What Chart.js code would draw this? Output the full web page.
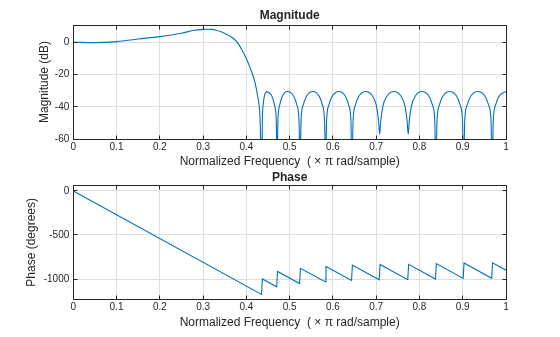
<!DOCTYPE html>
<html>
<head>
<meta charset="utf-8">
<script src="https://cdn.jsdelivr.net/npm/chart.js@4"></script>
<style>
  html, body { margin: 0; padding: 0; background: #fff; }
  #wrap { position: relative; width: 560px; height: 337px; }
  .panel { position: absolute; left: 0; width: 560px; }
  #magPanel { top: 0; height: 170px; }
  #phasePanel { top: 170px; height: 167px; }
</style>
</head>
<body>
<div id="wrap">
  <div class="panel" id="magPanel"><canvas id="magChart" width="560" height="170"></canvas></div>
  <div class="panel" id="phasePanel"><canvas id="phaseChart" width="560" height="167"></canvas></div>
</div>
<script>
// Filter response: magnitude (dB) and phase (degrees)
(function () {
  'use strict';

  // --- Data ---
  const freqTicks = [0, 0.1, 0.2, 0.3, 0.4, 0.5, 0.6, 0.7, 0.8, 0.9, 1];
  const magTicks = [-60, -40, -20, 0];
  const phaseTicks = [-1000, -500, 0];

  const magFreq = [
    0, 0.05, 0.1, 0.15, 0.2, 0.25, 0.28, 0.3, 0.31, 0.32, 0.33, 0.34, 0.35, 0.36, 0.37, 0.38, 0.389, 0.4, 0.41, 0.42, 0.426, 0.431,
    0.436, 0.4369, 0.4386, 0.4415, 0.447, 0.459, 0.4652, 0.4691,
    0.471, 0.4729, 0.4768, 0.483, 0.495, 0.5095, 0.517, 0.5217,
    0.524, 0.5264, 0.5311, 0.5388, 0.5535, 0.5683, 0.5759, 0.5806,
    0.583, 0.5854, 0.5903, 0.5983, 0.6135, 0.6288, 0.6367, 0.6416,
    0.644, 0.6466, 0.6517, 0.66, 0.676, 0.692, 0.7003, 0.7054,
    0.708, 0.7106, 0.7159, 0.7245, 0.741, 0.7575, 0.7661, 0.7714,
    0.774, 0.7766, 0.7817, 0.79, 0.806, 0.822, 0.8303, 0.8354,
    0.838, 0.8406, 0.8457, 0.854, 0.87, 0.886, 0.8943, 0.8994,
    0.902, 0.9046, 0.9099, 0.9185, 0.935, 0.9515, 0.9601, 0.9654,
    0.968, 0.9706, 0.9757, 0.984, 1,
  ];
  const magDb = [
    0, -0.2, 0.4, 2.0, 3.5, 5.6, 7.4, 8.0, 8.1, 8.0, 7.5, 6.7, 5.5, 4.1, 2.3, -0.4, -4.4, -10.2, -16.8, -25, -33.5, -44,
    -80, -48.5, -39.2, -33.5, -30.8, -33.5, -39.2, -48.5,
    -80, -48.5, -39.2, -33.5, -30.5, -33.5, -39.2, -48.5,
    -80, -48.5, -39.2, -33.5, -30.5, -33.5, -39.2, -48.5,
    -80, -48.5, -39.2, -33.5, -30.5, -33.5, -39.2, -48.5,
    -80, -48.5, -39.2, -33.5, -30.5, -33.5, -39.2, -48.5,
    -57, -48.5, -39.2, -33.5, -30.5, -33.5, -39.2, -48.5,
    -57, -48.5, -39.2, -33.5, -30.5, -33.5, -39.2, -48.5,
    -80, -48.5, -39.2, -33.5, -30.5, -33.5, -39.2, -48.5,
    -80, -48.5, -39.2, -33.5, -30.5, -33.5, -39.2, -48.5,
    -80, -48.5, -39.2, -33.5, -30.5,
  ];

  const phaseFreq = [
    0, 0.435, 0.437, 0.470, 0.472, 0.523, 0.525, 0.582, 0.584, 0.643, 0.645,
    0.707, 0.709, 0.773, 0.775, 0.837, 0.839, 0.901, 0.903, 0.967, 0.969, 1,
  ];
  const phaseDeg = [
    0, -1175, -1000, -1089, -914, -1052, -878, -1031, -857, -1016, -842,
    -1009, -834, -1007, -833, -1000, -825, -993, -818, -991, -816, -900,
  ];

  // --- Style ---
  const FONT = "'Liberation Sans', Arial, Helvetica, sans-serif";
  const TEXT = '#262626';
  const GRID = '#dedede';
  const LINE = '#0072bd';
  const TICK_LEN = 4;
  const X_TITLE = 'Normalized Frequency  ( \u00d7 \u03c0 rad/sample)';

  Chart.defaults.font.family = FONT;
  Chart.defaults.color = TEXT;
  Chart.defaults.animation = false;

  // MATLAB-style box with inward tick marks on all four sides
  const boxPlugin = {
    id: 'matlabBox',
    afterDraw(chart) {
      const { ctx, chartArea: a, scales } = chart;
      const al = (p) => Math.round(p - 0.5) + 0.5;
      const l = al(a.left), r = al(a.right), t = al(a.top), b = al(a.bottom);
      ctx.save();
      ctx.strokeStyle = TEXT;
      ctx.lineWidth = 1;
      ctx.beginPath();
      scales.x.ticks.forEach((tk) => {
        const x = al(scales.x.getPixelForValue(tk.value));
        ctx.moveTo(x, b); ctx.lineTo(x, b - TICK_LEN);
        ctx.moveTo(x, t); ctx.lineTo(x, t + TICK_LEN);
      });
      scales.y.ticks.forEach((tk) => {
        const y = al(scales.y.getPixelForValue(tk.value));
        ctx.moveTo(l, y); ctx.lineTo(l + TICK_LEN, y);
        ctx.moveTo(r, y); ctx.lineTo(r - TICK_LEN, y);
      });
      ctx.rect(l, t, r - l, b - t);
      ctx.stroke();
      ctx.restore();
    },
  };

  function makeChart(id, cfg) {
    const points = cfg.xs.map((x, i) => ({ x, y: cfg.ys[i] }));
    return new Chart(document.getElementById(id), {
      type: 'line',
      data: {
        datasets: [{
          data: points,
          borderColor: LINE,
          borderWidth: 1.1,
          pointRadius: 0,
          fill: false,
          tension: 0,
          cubicInterpolationMode: cfg.smooth ? 'monotone' : 'default',
        }],
      },
      options: {
        responsive: false,
        animation: false,
        layout: { padding: { left: 0, right: 54, top: 0, bottom: 0 } },
        plugins: {
          legend: { display: false },
          tooltip: { enabled: false },
          title: {
            display: true,
            text: cfg.title,
            fullSize: false,
            font: { size: 12, weight: 'bold', lineHeight: 1.2 },
            padding: cfg.titlePad,
          },
        },
        scales: {
          x: {
            type: 'linear',
            min: 0,
            max: 1,
            afterBuildTicks: (s) => { s.ticks = freqTicks.map((v) => ({ value: v })); },
            afterFit: (s) => { s.height = cfg.xHeight; },
            grid: { color: GRID, drawTicks: false },
            border: { display: false },
            ticks: {
              padding: cfg.xTickPad,
              font: { size: 10 },
              maxRotation: 0,
              autoSkip: false,
              callback: (v) => String(v),
            },
            title: {
              display: true,
              text: X_TITLE,
              font: { size: 12, lineHeight: 1.2 },
              padding: { top: 0, bottom: cfg.xTitlePad },
            },
          },
          y: {
            type: 'linear',
            min: cfg.yMin,
            max: cfg.yMax,
            afterBuildTicks: (s) => { s.ticks = cfg.yTicks.map((v) => ({ value: v })); },
            afterFit: (s) => { s.width = 73.3; },
            grid: { color: GRID, drawTicks: false },
            border: { display: false },
            ticks: { padding: 4, font: { size: 10 }, callback: (v) => String(v) },
            title: {
              display: true,
              text: cfg.yTitle,
              font: { size: 12, lineHeight: 1.2 },
              padding: { top: cfg.yTitlePad, bottom: 0 },
            },
          },
        },
      },
      plugins: [boxPlugin],
    });
  }

  // --- Charts ---
  makeChart('magChart', {
    xs: magFreq,
    ys: magDb,
    smooth: true,
    title: 'Magnitude',
    titlePad: { top: 8.5, bottom: 2.1 },
    xHeight: 31,
    xTickPad: 2.5,
    xTitlePad: 0.8,
    yMin: -60,
    yMax: 10.7,
    yTicks: magTicks,
    yTitle: 'Magnitude (dB)',
    yTitlePad: 37.8,
  });

  makeChart('phaseChart', {
    xs: phaseFreq,
    ys: phaseDeg,
    smooth: false,
    title: 'Phase',
    titlePad: { top: 0, bottom: 1.3 },
    xHeight: 38,
    xTickPad: 2.3,
    xTitlePad: 7.1,
    yMin: -1227,
    yMax: 60,
    yTicks: phaseTicks,
    yTitle: 'Phase (degrees)',
    yTitlePad: 24.5,
  });
})();
</script>
</body>
</html>
